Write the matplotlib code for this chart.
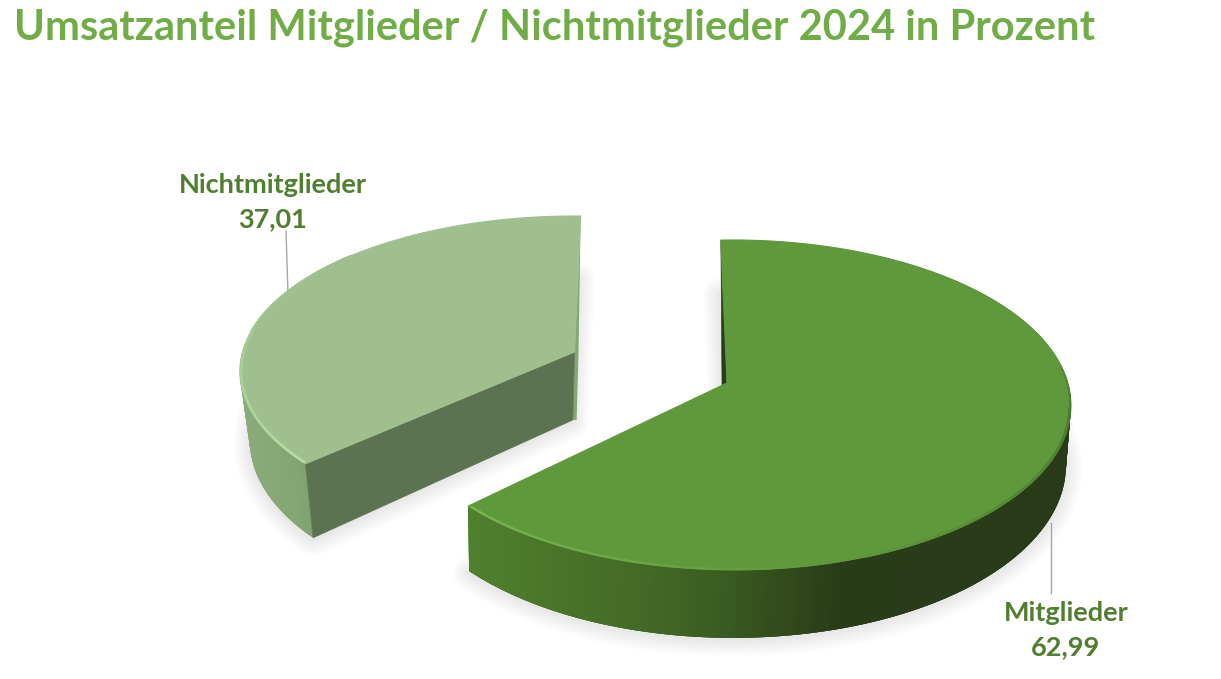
import numpy as np
import matplotlib
matplotlib.use("Agg")
import matplotlib.pyplot as plt
from matplotlib.patches import Polygon
from matplotlib.collections import LineCollection
from matplotlib.colors import to_rgb

categories = ["Mitglieder", "Nichtmitglieder"]
values = [62.99, 37.01]
value_labels = ["62,99", "37,01"]
title = "Umsatzanteil Mitglieder / Nichtmitglieder 2024 in Prozent"

plt.rcParams['font.family'] = ['Lato', 'DejaVu Sans']
fig = plt.figure(figsize=(12.21, 6.79), dpi=100)
ax = fig.add_axes([0, 0, 1, 1])
ax.set_xlim(0, 1221)
ax.set_ylim(679, 0)
ax.axis("off")

share = np.array(values) / sum(values) * 360


class Slice:
    def __init__(s, apex, a, b, k, j, rot, start, sweep, depth, dk, f, cx):
        s.apex, s.a, s.b, s.k, s.j, s.rot = apex, a, b, k, j, rot
        s.start, s.sweep, s.depth, s.dk, s.f, s.cx = start, sweep, depth, dk, f, cx

    def pts(s, t):
        r = np.radians(np.asarray(t) + s.rot)
        x, y = np.sin(r), np.cos(r)
        w = 1 + s.k * y + s.j * x
        return np.column_stack([s.apex[0] + s.a * x / w, s.apex[1] - s.b * y / w])

    def low(s, p):
        p = np.atleast_2d(p)
        d = s.depth * (1 + s.dk * (p[:, 1] - s.apex[1]) / 100)
        return np.column_stack([s.cx + s.f * (p[:, 0] - s.cx), p[:, 1] + d])

    def angles(s, n=300):
        return np.linspace(s.start, s.start + s.sweep, n)


def ramp(x, stops):
    xs = [q[0] for q in stops]
    cs = np.array([to_rgb(q[1]) for q in stops])
    return np.column_stack([np.interp(x, xs, cs[:, i]) for i in range(3)])


big = Slice((727, 383), 334, 162, 0.133, -0.02, -1.2, 0, share[0], 59, 0.0816, 0.99, 570)
small = Slice((574.5, 352), 332, 153, 0.125, 0.0, 1.2, share[0], share[1], 68, 0.079, 0.965, 525)


def shadow(s, dx, dy):
    rim = s.pts(s.angles())
    apex = np.array([s.apex])
    base = np.vstack([s.low(apex), s.low(rim)]) + [dx, dy]
    for lw in np.linspace(1, 24, 12):
        ax.add_patch(Polygon(base, closed=True, facecolor=(0, 0, 0, 0.0),
                             edgecolor=(0, 0, 0, 0.008), lw=lw, joinstyle="round", zorder=1))


def wall(s, stops, skip, zorder=2):
    t = s.angles()
    t = t[(t >= skip[0]) & (t <= skip[1])]
    rim = s.pts(t)
    lo = s.low(rim)
    cols = ramp(0.5 * (rim[:-1, 0] + rim[1:, 0]), stops)
    for i in range(len(rim) - 1):
        e = min(i + 3, len(rim) - 1)   # overlap the next quads so no seams show
        ax.add_patch(Polygon([rim[i], rim[e], lo[e], lo[i]], closed=True,
                             facecolor=cols[i], edgecolor="none", zorder=zorder + i * 1e-4))


def top(s, color, zorder):
    rim = s.pts(s.angles())
    ax.add_patch(Polygon(np.vstack([[s.apex], rim]), closed=True, facecolor=color,
                         edgecolor=color, lw=0.8, joinstyle="round", zorder=zorder))


def rim_stroke(s, t0, t1, c0, c1, lw, zorder, inset=0.0):
    t = np.linspace(t0, t1, 120)
    p = s.pts(t)
    p = p + (np.array(s.apex) - p) * inset
    segs = np.stack([p[:-1], p[1:]], axis=1)
    u = np.linspace(0, 1, len(segs))
    a = np.array(to_rgb(c0))
    b = np.array(to_rgb(c1))
    cols = np.column_stack([a[i] + (b[i] - a[i]) * u for i in range(3)])
    ax.add_collection(LineCollection(segs, colors=cols, linewidths=lw, zorder=zorder, capstyle="round"))


# soft shadows of the two base discs
shadow(small, 0, 2)
shadow(big, 0, 2)

# --- small slice ---
wall(small, [(240, "#8bab7b"), (290, "#84a574"), (320, "#7f9f6f")], (small.start, 300), 2)
p_end = small.pts([small.start])[0]
apx = np.array(small.apex)
ax.add_patch(Polygon([p_end, apx, small.low(apx)[0], small.low(p_end)[0]], closed=True,
                     facecolor="#5c7352", edgecolor="#5c7352", lw=0.5, joinstyle="round", zorder=3))
p_top = small.pts([small.start + small.sweep])[0]
ax.add_patch(Polygon([p_top, apx + [4, 0], small.low(apx + [4, 0])[0], small.low(apx)[0], apx],
                     closed=True, facecolor="#86a676", edgecolor="none", zorder=2.5))
top(small, "#9fc08e", 4)
rim_stroke(small, small.start + 0.6, small.start + 50, "#b4dca3", "#a4c993", 1.8, 5, inset=0.004)
rim_stroke(small, small.start + 50, small.start + 85, "#a4c993", "#9fc08e", 1.4, 5)

# --- big slice ---
wall(big, [(469, "#4f802e"), (560, "#4a7429"), (640, "#436a26"), (720, "#3a5d21"),
           (790, "#31491c"), (840, "#293c18"), (1080, "#293a18")], (30, big.start + big.sweep), 6)
apx = np.array(big.apex)
p_top = big.pts([big.start])[0]
ax.add_patch(Polygon([p_top, apx, apx + [-5, 3]], closed=True, facecolor="#2a3d19",
                     edgecolor="#2a3d19", lw=0.4, zorder=6.5))
top(big, "#60983c", 7)
rim_stroke(big, big.start + big.sweep - 0.6, big.start + big.sweep - 65, "#78b552", "#5f953b", 1.6, 8, inset=0.004)
rim_stroke(big, 160, 135, "#5f953b", "#568a36", 1.8, 8, inset=0.003)
rim_stroke(big, 135, 100, "#568a36", "#4a7a2e", 1.8, 8, inset=0.003)
rim_stroke(big, 100, 85, "#4a7a2e", "#5a8f38", 1.2, 8, inset=0.002)

# leader lines
ax.plot([286, 288], [231, 294], color="#a6a6a6", lw=1, zorder=0.5)
ax.plot([1051, 1051], [523, 593], color="#a6a6a6", lw=1, zorder=9)

# labels
lab = "#4f7f2f"
ax.text(1066, 613, categories[0], color=lab, fontsize=19.5, fontweight="bold", ha="center", va="center", zorder=10)
ax.text(1066, 647, value_labels[0], color=lab, fontsize=19.5, fontweight="bold", ha="center", va="center", zorder=10)
ax.text(273, 185, categories[1], color=lab, fontsize=19.5, fontweight="bold", ha="center", va="center", zorder=10)
ax.text(273, 219, value_labels[1], color=lab, fontsize=19.5, fontweight="bold", ha="center", va="center", zorder=10)

ax.text(14, 28, title, color="#70ad47", fontsize=30, fontweight="bold", ha="left", va="center", zorder=10)

fig.savefig("out.png", dpi=100, facecolor="white")
